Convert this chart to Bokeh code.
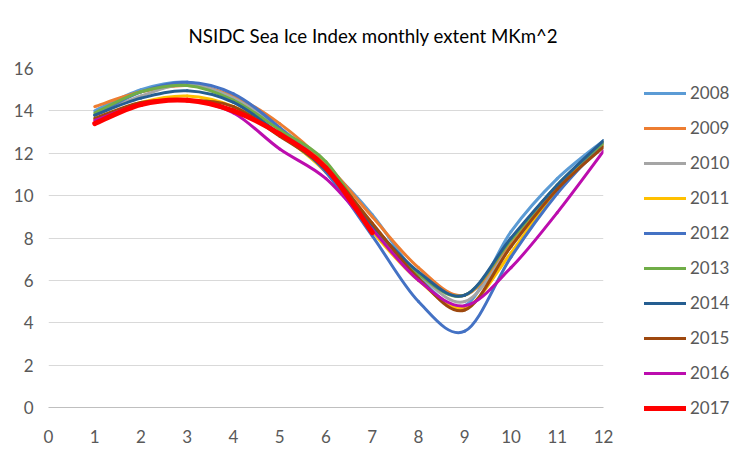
from bokeh.plotting import figure
from bokeh.models import Legend, LegendItem, FixedTicker, Range1d, Title
from bokeh.embed import file_html
from bokeh.resources import INLINE

months = [1, 2, 3, 4, 5, 6, 7, 8, 9, 10, 11, 12]
years = ["2008", "2009", "2010", "2011", "2012", "2013", "2014", "2015", "2016", "2017"]

y2008 = [14.0, 15.0, 15.35, 14.6, 13.2, 11.4, 9.1, 6.2, 4.8, 8.3, 10.8, 12.6]
y2009 = [14.2, 14.9, 15.2, 14.7, 13.4, 11.5, 9.0, 6.6, 5.3, 7.7, 10.4, 12.5]
y2010 = [13.8, 14.7, 15.25, 14.6, 13.1, 11.1, 8.6, 6.3, 5.0, 7.6, 10.3, 12.3]
y2011 = [13.6, 14.4, 14.7, 14.2, 12.9, 11.1, 8.3, 6.0, 4.7, 7.3, 10.3, 12.4]
y2012 = [13.8, 14.9, 15.35, 14.8, 13.2, 11.1, 8.1, 5.0, 3.6, 7.1, 10.1, 12.5]
y2013 = [13.9, 14.9, 15.2, 14.5, 13.1, 11.6, 8.5, 6.3, 5.3, 7.9, 10.5, 12.5]
y2014 = [13.8, 14.6, 14.95, 14.4, 12.9, 11.2, 8.6, 6.4, 5.3, 8.0, 10.5, 12.6]
y2015 = [13.65, 14.4, 14.5, 14.2, 12.8, 11.3, 8.7, 6.1, 4.6, 7.6, 10.3, 12.3]
y2016 = [13.55, 14.3, 14.5, 13.9, 12.2, 10.8, 8.4, 6.0, 4.8, 6.6, 9.2, 12.1]
y2017 = [13.4, 14.3, 14.5, 14.0, 12.9, 11.3, 8.25]

series = [y2008, y2009, y2010, y2011, y2012, y2013, y2014, y2015, y2016, y2017]
colors = ["#5B9BD5", "#ED7D31", "#A5A5A5", "#FFC000", "#4472C4",
          "#70AD47", "#255E91", "#9E480E", "#BC0DAE", "#FF0000"]
widths = [3, 3, 3, 3, 3, 3, 3, 3, 3, 5]

x_ticks = list(range(0, 13))
y_ticks = list(range(0, 17, 2))
title_text = "NSIDC Sea Ice Index monthly extent MKm^2"

FONT = "Lato"
GREY_TXT = "#595959"

p = figure(frame_width=555, frame_height=339, output_backend="svg", toolbar_location=None,
           x_range=Range1d(0, 12), y_range=Range1d(0, 16),
           min_border_left=48, min_border_right=0, min_border_top=68, min_border_bottom=41)
p.outline_line_color = None
p.background_fill_color = "white"
p.border_fill_color = "white"

p.xgrid.grid_line_color = None
p.ygrid.grid_line_color = "#D9D9D9"
p.ygrid.grid_line_width = 1

p.xaxis.ticker = FixedTicker(ticks=x_ticks)
p.yaxis.ticker = FixedTicker(ticks=y_ticks)
for ax in (p.xaxis, p.yaxis):
    ax.major_tick_line_color = None
    ax.minor_tick_line_color = None
    ax.major_label_text_font = FONT
    ax.major_label_text_font_size = "17px"
    ax.major_label_text_color = GREY_TXT
p.xaxis.axis_line_color = "#BFBFBF"
p.xaxis.major_label_standoff = 16
p.yaxis.axis_line_color = None
p.yaxis.major_label_standoff = 9


def bezier_parts(xs, ys):
    n = len(xs)
    x0, y0, x1, y1, cx0, cy0, cx1, cy1 = [], [], [], [], [], [], [], []
    for i in range(n - 1):
        xa, ya = xs[max(i - 1, 0)], ys[max(i - 1, 0)]
        xb, yb = xs[i], ys[i]
        xc, yc = xs[i + 1], ys[i + 1]
        xd, yd = xs[min(i + 2, n - 1)], ys[min(i + 2, n - 1)]
        x0.append(xb); y0.append(yb); x1.append(xc); y1.append(yc)
        cx0.append(xb + (xc - xa) / 6.0); cy0.append(yb + (yc - ya) / 6.0)
        cx1.append(xc - (xd - xb) / 6.0); cy1.append(yc - (yd - yb) / 6.0)
    return dict(x0=x0, y0=y0, x1=x1, y1=y1, cx0=cx0, cy0=cy0, cx1=cx1, cy1=cy1)


items = []
for yr, vals, col, w in zip(years, series, colors, widths):
    xs = months[:len(vals)]
    d = bezier_parts(xs, vals)
    r = p.bezier(line_color=col, line_width=w, line_cap="round", **d)
    items.append(LegendItem(label=yr, renderers=[r]))

legend = Legend(items=items, location=(41, -11),
                glyph_width=42, glyph_height=20, label_height=20, spacing=14,
                label_standoff=4, padding=0, margin=0,
                label_text_font=FONT, label_text_font_size="17px",
                label_text_color=GREY_TXT,
                border_line_color=None, background_fill_alpha=0)
p.add_layout(legend, "right")

title = Title(text=title_text, align="left", offset=140, standoff=43,
              text_font=FONT, text_font_size="18.7px", text_font_style="normal",
              text_color="#000000")
p.add_layout(title, "above")

open("out.html", "w").write(file_html(p, INLINE))
